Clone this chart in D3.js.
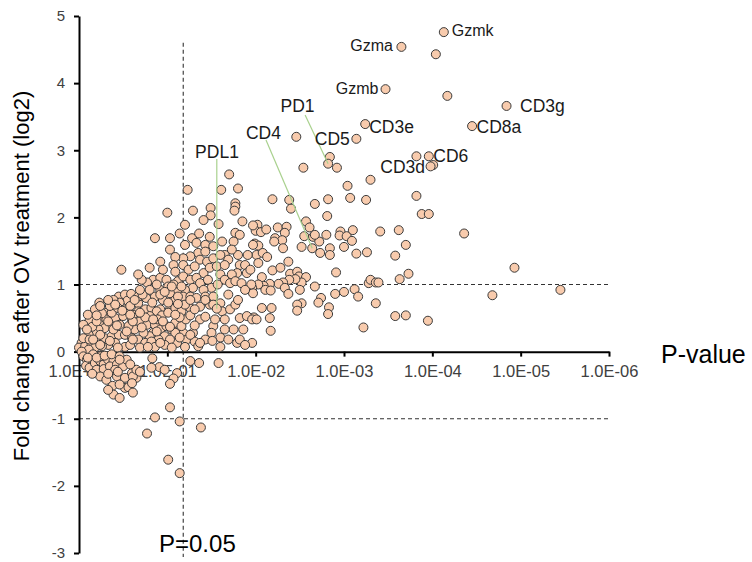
<!DOCTYPE html>
<html>
<head>
<meta charset="utf-8">
<script src="https://cdn.jsdelivr.net/npm/d3@7"></script>
<style>
  body { margin: 0; background: #fff; }
  svg { display: block; font-family: Arial, "Liberation Sans", sans-serif; }
</style>
</head>
<body>
<svg width="752" height="562"></svg>
<script>
// x = -log10(P), y = log2 fold change
var pTickExponents = [0, 1, 2, 3, 4, 5, 6];
var fcTicks = [-3, -2, -1, 0, 1, 2, 3, 4, 5];
var fcThresholds = [1, -1];
var pThreshold = 1.18;          // where the P=0.05 line sits on the axis
var pThresholdSpan = [-3.06, 4.6];

var geneNames  = ["Gzmk", "Gzma", "Gzmb", "CD3g", "CD8a", "CD3e", "CD5", "CD6", "CD3d", "PD1", "CD4", "PDL1"];
var geneNegLogP = [4.13, 3.65, 3.47, 4.84, 4.45, 3.24, 3.14, 3.96, 3.98, 2.82, 2.64, 1.56];
var geneLog2FC  = [4.76, 4.54, 3.91, 3.66, 3.36, 3.39, 3.17, 2.91, 2.76, 2.80, 1.54, 0.64];

// all other genes, [-log10 P, log2 FC]
var otherGenes = [
  [4.04,4.43],[4.17,3.81],[2.46,3.20],[2.84,2.90],[2.92,2.74],[2.54,2.74],[3.82,2.91],[4.01,2.78],[3.30,2.56],[3.04,2.47],
  [3.82,2.32],[2.19,2.27],[2.38,2.26],[2.82,2.27],[3.07,2.29],[3.25,2.26],[2.40,2.13],[2.67,2.20],[2.81,2.02],[2.57,1.94],
  [2.61,1.85],[2.02,1.89],[2.00,1.80],[2.06,1.78],[2.12,1.82],[2.25,1.85],[2.35,1.86],[2.33,1.77],[2.22,1.69],[2.30,1.66],
  [2.21,1.64],[2.55,1.72],[2.65,1.71],[2.72,1.64],[2.80,1.74],[2.96,1.79],[2.95,1.73],[3.03,1.72],[3.09,1.65],[3.00,1.56],
  [2.52,1.56],[2.31,1.54],[1.99,1.61],[2.03,1.58],[2.84,1.54],[3.88,2.05],[3.96,2.05],[4.36,1.76],[3.62,1.81],[3.41,1.79],
  [3.10,1.81],[2.67,1.74],[3.70,1.59],[2.73,1.47],[2.84,1.44],[3.14,1.46],[3.26,1.48],[3.58,1.43],[1.97,1.59],[2.01,1.44],
  [2.08,1.47],[2.13,1.41],[2.03,1.32],[2.37,1.34],[2.19,1.21],[2.28,1.25],[2.07,1.11],[2.39,1.16],[2.47,1.19],[2.49,1.12],
  [2.57,1.11],[2.52,1.03],[2.45,1.08],[2.38,1.07],[2.31,1.03],[2.26,1.01],[2.16,1.01],[2.09,0.98],[2.03,1.00],[1.96,0.95],
  [1.97,0.87],[2.11,0.92],[2.17,0.91],[2.33,0.95],[2.37,0.86],[2.50,0.92],[2.67,0.97],[2.91,1.18],[2.90,0.86],[3.00,0.89],
  [3.12,0.93],[3.16,0.82],[3.28,1.02],[3.30,1.07],[3.36,1.03],[3.39,1.03],[3.63,1.08],[3.73,1.16],[4.93,1.25],[4.68,0.84],
  [5.45,0.92],[2.74,0.80],[2.71,0.73],[2.83,0.66],[2.82,0.56],[3.36,0.72],[3.58,0.53],[3.70,0.54],[3.95,0.46],[3.22,0.36],
  [2.52,0.72],[2.47,0.70],[2.47,0.61],[2.07,0.65],[2.18,0.65],[2.16,0.50],[1.98,0.51],[2.17,0.31],[1.96,0.13],
  [1.70,2.64],[1.23,2.41],[1.61,2.41],[1.80,2.43],[1.00,2.07],[1.29,2.10],[1.49,2.14],[1.49,2.03],[1.41,1.96],[1.77,2.21],
  [1.77,2.16],[1.76,2.10],[1.85,1.94],[1.58,1.90],[1.20,1.89],[1.97,1.88],
  [0.86,1.69],[1.03,1.69],[1.14,1.76],[1.28,1.69],[1.36,1.76],[1.33,1.62],[1.43,1.59],[1.48,1.71],[1.52,1.57],[1.62,1.64],
  [1.77,1.77],[1.82,1.74],[1.75,1.64],[1.35,1.47],[1.43,1.49],[1.37,1.37],[1.45,1.34],[1.52,1.39],[1.26,1.42],[1.18,1.39],
  [1.09,1.41],[1.07,1.29],[1.09,1.19],[1.18,1.29],[1.24,1.22],[1.31,1.27],[1.41,1.17],[1.48,1.25],[1.56,1.27],[1.60,1.15],
  [1.65,1.44],[1.69,1.37],[1.80,1.44],[1.82,1.29],[1.88,1.29],[1.90,1.17],[1.79,1.17],[1.73,1.15],[1.65,1.07],[1.71,1.02],
  [1.77,1.05],[1.84,1.02],[1.95,1.00],[0.84,1.07],[0.92,1.10],[0.99,1.07],[1.01,0.97],[1.12,1.05],[1.18,1.12],[1.26,1.07],
  [1.33,1.10],[1.37,1.02],[1.46,1.07],[1.50,0.95],[1.41,0.92],[1.29,0.95],[1.20,0.92],[1.11,0.90],[1.03,0.87],[0.92,0.92],
  [0.86,0.82],[0.95,0.77],[1.09,0.77],[1.18,0.82],[1.26,0.82],[1.33,0.80],[1.43,0.82],[1.52,0.82],[1.60,0.72],[1.48,0.70],
  [1.37,0.67],[1.26,0.65],[1.14,0.65],[1.03,0.63],[0.92,0.63],[1.62,0.60],[1.71,0.63],[1.77,0.70],[1.82,0.50],[1.90,0.53],
  [1.96,0.48],[1.65,0.48],[1.86,0.33],[2.01,0.48],[1.52,0.38],[1.50,0.28],[1.29,0.28],[1.18,0.28],[1.05,0.33],[0.95,0.38],
  [0.86,0.43],[0.84,0.28],[1.75,0.33],[0.48,1.22],[0.92,0.85],[1.11,0.13],[1.22,0.18],[1.31,0.15],[1.35,0.08],[1.79,0.13],
  [0.77,1.03],[0.88,1.00],[1.07,1.00],[1.16,0.97],[0.71,1.07],
  [0.23,0.73],[0.45,0.82],[0.52,0.85],[0.55,0.76],[0.46,0.73],[0.12,0.47],[0.29,0.58],[0.67,0.72],[0.67,0.60],[0.75,0.63],
  [0.82,0.65],[0.88,0.60],[0.80,0.53],[0.94,0.54],[1.01,0.58],[1.09,0.65],[1.16,0.60],[1.12,0.82],[0.24,0.45],[0.31,0.48],
  [0.41,0.50],[0.50,0.53],[0.60,0.48],[0.69,0.45],[0.77,0.40],[0.86,0.40],[0.92,0.33],[0.99,0.38],[1.09,0.43],[1.16,0.38],
  [1.09,0.28],[0.97,0.23],[0.90,0.18],[0.80,0.23],[0.73,0.28],[0.63,0.33],[0.56,0.38],[0.46,0.40],[0.37,0.38],[0.29,0.35],
  [0.22,0.33],[0.16,0.28],[0.11,0.25],[0.07,0.18],[0.03,0.13],[0.00,0.06],[0.07,0.08],[0.14,0.13],[0.22,0.18],[0.29,0.20],
  [0.37,0.23],[0.45,0.25],[0.52,0.25],[0.60,0.20],[0.67,0.18],[0.75,0.13],[0.82,0.15],[0.41,0.13],[0.33,0.10],[0.26,0.08],
  [0.18,0.06],[0.11,0.03],[0.03,0.00],[0.56,0.61],[0.61,0.55],[0.05,0.20],[0.12,0.18],[0.52,0.63],[0.37,0.58],[0.44,0.65],
  [0.61,0.45],[0.75,0.51],[0.89,0.48],[1.03,0.18],[1.14,0.21],[0.97,0.10],[0.86,0.07],[0.69,0.06],[0.52,0.07],[0.35,0.16],
  [0.58,0.10],[0.24,0.25],[0.15,0.37],[0.20,0.45],[0.26,0.57],[0.35,0.68],[0.39,0.77],[0.59,0.86],[0.67,0.82],[0.76,0.80],
  [0.83,0.73],[1.01,0.73],[1.21,0.48],[1.26,0.54],[1.37,0.48],[1.31,0.39],[1.43,0.18],[1.60,0.21],[1.65,0.33],[1.82,0.18],
  [1.88,0.10],[1.60,0.07],
  [0.18,0.63],[0.24,0.68],[0.33,0.77],[0.41,0.70],[0.49,0.61],[0.58,0.68],[0.63,0.77],[0.72,0.85],[0.80,0.92],[0.97,0.89],
  [1.05,0.97],[0.69,0.92],[0.10,0.55],[0.05,0.40],[0.09,0.33],[0.16,0.18],[0.24,0.10],[0.44,0.06],[0.61,0.18],[0.78,0.07],
  [0.92,0.13],[1.05,0.06],[1.20,0.07],[1.26,0.25],[1.37,0.13],[1.51,0.16],[1.43,0.52],[1.54,0.48],[1.69,0.18],[1.14,0.51],
  [1.03,0.37],[0.88,0.30],[0.71,0.36],[0.54,0.30],[0.39,0.33],[0.20,0.54],[0.33,0.45],[0.43,0.39],[0.58,0.55],[0.69,0.58],
  [0.84,0.48],[0.95,0.45],[1.09,0.55],[1.20,0.70],[1.31,0.63],[1.26,0.77],[1.12,0.71],[1.43,0.77],[1.52,0.70],[1.69,0.85],
  [1.80,0.77],[1.88,0.92],[1.57,1.00],[1.65,1.29],[1.73,1.52],[1.60,1.44],[1.94,1.22],[1.91,1.44],[1.20,1.59],[1.03,1.52],
  [0.92,1.34],[0.80,1.25],[0.95,1.22],[0.67,1.15],
  [0.05,-0.07],[0.09,-0.12],[0.14,-0.14],[0.08,-0.21],[0.12,-0.24],[0.18,-0.17],[0.24,-0.14],[0.28,-0.19],[0.33,-0.12],[0.39,-0.14],
  [0.24,-0.07],[0.16,-0.04],[0.20,-0.27],[0.28,-0.26],[0.35,-0.22],[0.43,-0.19],[0.50,-0.22],[0.24,-0.37],[0.31,-0.42],[0.43,-0.37],
  [0.52,-0.39],[0.65,-0.39],[0.60,-0.32],[0.38,-0.51],[0.39,-0.64],[0.46,-0.69],[0.52,-0.54],[0.56,-0.53],[0.61,-0.61],[0.83,-0.10],
  [0.91,-0.23],[0.82,-0.24],[1.11,-0.32],[1.07,-0.40],[1.03,-0.48],[1.26,-0.14],[1.36,-0.17],[1.58,-0.17],[1.03,-0.83],[0.86,-0.98],
  [1.14,-1.04],[1.38,-1.13],[0.77,-1.22],[1.01,-1.61],[1.14,-1.81],[0.61,-0.37],[0.65,-0.27],[0.41,-0.27],[0.60,-0.47],[0.97,-0.27],
  [0.10,-0.09],[0.20,-0.09],[0.29,-0.06],[0.37,-0.04],[0.46,-0.07],[0.54,-0.12],[0.44,-0.30],[0.33,-0.33],[0.15,-0.33],
  [0.46,-0.12],[0.58,-0.19],[0.69,-0.30],[0.33,-0.57],[0.46,-0.49]
];

// label placement, pixels relative to the gene's dot
var labelStyle = {
  Gzmk: { anchor: "start",  dx: 8,     dy: -2,     size: 16 },
  Gzma: { anchor: "end",    dx: -8.5,  dy: -1.5,   size: 16 },
  Gzmb: { anchor: "end",    dx: -7,    dy: -1,     size: 16 },
  CD3g: { anchor: "start",  dx: 13.5,  dy: 0,      size: 17.5 },
  CD8a: { anchor: "start",  dx: 4.5,   dy: 0.5,    size: 17.5 },
  CD3e: { anchor: "start",  dx: 4,     dy: 2.5,    size: 17.5 },
  CD5:  { anchor: "end",    dx: -6.5,  dy: 0,      size: 17.5 },
  CD6:  { anchor: "start",  dx: 4.5,   dy: 0,      size: 17.5 },
  CD3d: { anchor: "end",    dx: -5.5,  dy: 1,      size: 17.5 },
  PD1:  { anchor: "middle", dx: -30.6, dy: -57.7,  size: 17.5, line: [-23, -48.7] },
  CD4:  { anchor: "middle", dx: -48.7, dy: -115.3, size: 17.5, line: [-46.2, -108.3] },
  PDL1: { anchor: "middle", dx: 0.2,   dy: -157,   size: 17.5, line: [0, -149.7] }
};

var svg = d3.select("svg");

var x = d3.scaleLinear().domain([0, 6]).range([79, 609]);
var y = d3.scaleLinear().domain([-3, 5]).range([553, 16]);

// dashed threshold lines
svg.selectAll(".hthr")
  .data(fcThresholds)
  .enter().append("line")
    .attr("x1", x(0)).attr("x2", x(6))
    .attr("y1", d => y(d)).attr("y2", d => y(d))
    .attr("stroke", "#333").attr("stroke-width", 1.1)
    .attr("stroke-dasharray", "4,3");

svg.append("line")
  .attr("x1", x(pThreshold)).attr("x2", x(pThreshold))
  .attr("y1", y(pThresholdSpan[1])).attr("y2", y(pThresholdSpan[0]))
  .attr("stroke", "#333").attr("stroke-width", 1.1)
  .attr("stroke-dasharray", "4,3");

// axes
var xAxis = d3.axisBottom(x)
  .tickValues(pTickExponents)
  .tickSize(5).tickSizeOuter(0).tickPadding(9)
  .tickFormat(d => "1.0E" + (d === 0 ? "+00" : "-0" + d));

var gx = svg.append("g")
  .attr("transform", "translate(0," + y(0) + ")")
  .call(xAxis);

var yAxis = d3.axisLeft(y)
  .tickValues(fcTicks)
  .tickSize(5).tickSizeOuter(0).tickPadding(9)
  .tickFormat(d => String(d));

var gy = svg.append("g")
  .attr("transform", "translate(" + x(0) + ",0)")
  .call(yAxis);

[gx, gy].forEach(function(g) {
  g.select(".domain").attr("stroke", "#000").attr("stroke-width", 2);
  g.selectAll(".tick line").attr("stroke", "#000").attr("stroke-width", 2);
  g.selectAll(".tick text")
    .attr("fill", "#404040")
    .attr("font-family", "Arial, 'Liberation Sans', sans-serif");
});
gx.selectAll(".tick text").attr("font-size", 16.5);
gy.selectAll(".tick text").attr("font-size", 15);

// dots
var dotR = 4.5;
svg.append("g")
  .selectAll("circle")
  .data(otherGenes)
  .enter().append("circle")
    .attr("cx", d => x(d[0]))
    .attr("cy", d => y(d[1]))
    .attr("r", dotR)
    .attr("fill", "#f8cbad")
    .attr("stroke", "#3a3a3a")
    .attr("stroke-width", 1);

var genes = geneNames.map(function(n, i) {
  return { name: n, p: geneNegLogP[i], fc: geneLog2FC[i] };
});

svg.append("g")
  .selectAll("circle")
  .data(genes)
  .enter().append("circle")
    .attr("cx", d => x(d.p))
    .attr("cy", d => y(d.fc))
    .attr("r", dotR)
    .attr("fill", "#f8cbad")
    .attr("stroke", "#3a3a3a")
    .attr("stroke-width", 1);

// leader lines
svg.append("g")
  .selectAll("line")
  .data(genes.filter(d => labelStyle[d.name].line))
  .enter().append("line")
    .attr("x1", d => x(d.p) + labelStyle[d.name].line[0])
    .attr("y1", d => y(d.fc) + labelStyle[d.name].line[1])
    .attr("x2", d => x(d.p))
    .attr("y2", d => y(d.fc))
    .attr("stroke", "#a9d18e")
    .attr("stroke-width", 1.2);

// gene labels
svg.append("g")
  .selectAll("text")
  .data(genes)
  .enter().append("text")
    .attr("x", d => x(d.p) + labelStyle[d.name].dx)
    .attr("y", d => y(d.fc) + labelStyle[d.name].dy + 0.35 * labelStyle[d.name].size)
    .attr("text-anchor", d => labelStyle[d.name].anchor)
    .attr("font-size", d => labelStyle[d.name].size)
    .attr("fill", "#1a1a1a")
    .text(d => d.name);

// titles
svg.append("text")
  .attr("x", 661).attr("y", 363)
  .attr("font-size", 25).attr("fill", "#000")
  .text("P-value");

svg.append("text")
  .attr("x", 159).attr("y", 552)
  .attr("font-size", 24).attr("fill", "#000")
  .text("P=0.05");

svg.append("text")
  .attr("transform", "translate(29,276) rotate(-90)")
  .attr("text-anchor", "middle")
  .attr("font-size", 22).attr("fill", "#000")
  .text("Fold change after OV treatment (log2)");
</script>
</body>
</html>
